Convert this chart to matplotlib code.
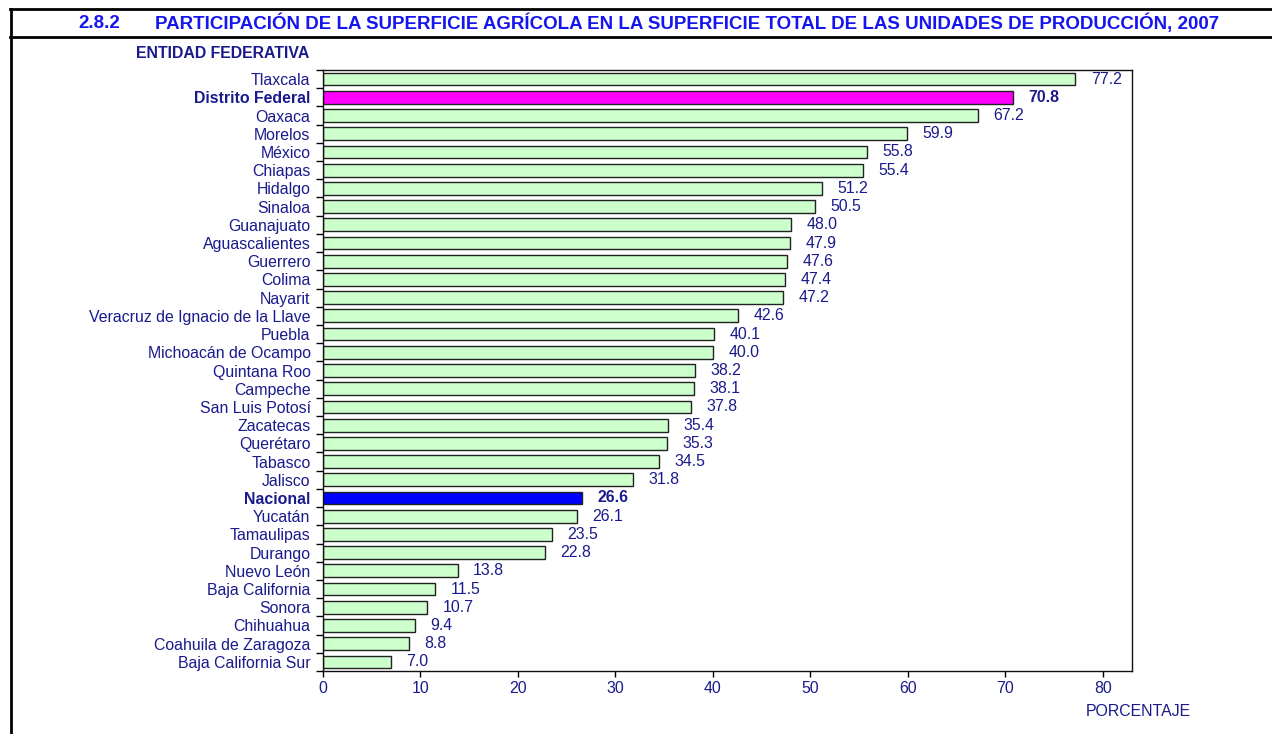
import matplotlib.pyplot as plt
import matplotlib.lines as mlines
import numpy as np

plt.rcParams['font.family'] = ['Liberation Sans', 'DejaVu Sans']

entidades = ["Tlaxcala", "Distrito Federal", "Oaxaca", "Morelos", "México", "Chiapas",
             "Hidalgo", "Sinaloa", "Guanajuato", "Aguascalientes", "Guerrero", "Colima",
             "Nayarit", "Veracruz de Ignacio de la Llave", "Puebla", "Michoacán de Ocampo",
             "Quintana Roo", "Campeche", "San Luis Potosí", "Zacatecas", "Querétaro",
             "Tabasco", "Jalisco", "Nacional", "Yucatán", "Tamaulipas", "Durango",
             "Nuevo León", "Baja California", "Sonora", "Chihuahua",
             "Coahuila de Zaragoza", "Baja California Sur"]
porcentaje = [77.2, 70.8, 67.2, 59.9, 55.8, 55.4, 51.2, 50.5, 48.0, 47.9, 47.6, 47.4,
              47.2, 42.6, 40.1, 40.0, 38.2, 38.1, 37.8, 35.4, 35.3, 34.5, 31.8, 26.6,
              26.1, 23.5, 22.8, 13.8, 11.5, 10.7, 9.4, 8.8, 7.0]
xticks = [0, 10, 20, 30, 40, 50, 60, 70, 80]

navy = '#1a1a8c'
blue_title = '#1515ee'
destacados = {"Distrito Federal": '#ff00ff', "Nacional": '#0000ff'}
fs = 11.4

fig = plt.figure(figsize=(12.72, 7.34), dpi=100)
ax = fig.add_axes([323 / 1272, 1 - 671 / 734, (1132 - 323) / 1272, (671 - 70) / 734])

n = len(entidades)
y = np.arange(n)
colores = [destacados.get(e, '#ccffcc') for e in entidades]
ax.barh(y, porcentaje, height=0.7, color=colores, edgecolor='#222222', linewidth=1)

for i, (e, v) in enumerate(zip(entidades, porcentaje)):
    bold = e in destacados
    ax.annotate(f"{v:.1f}", (v, i), xytext=(11, 0), textcoords='offset points',
                ha='left', va='center', fontsize=fs, color=navy,
                fontweight='bold' if bold else 'normal')

ax.set_ylim(n - 0.5, -0.5)
ax.set_xlim(0, 83)
ax.set_yticks(y)
ax.set_yticklabels(entidades)
for lbl, e in zip(ax.get_yticklabels(), entidades):
    lbl.set_color(navy)
    if e in destacados:
        lbl.set_fontweight('bold')
ax.tick_params(axis='y', which='major', length=0, pad=9, labelsize=fs)
ax.set_yticks(np.arange(-0.5, n, 1), minor=True)
ax.tick_params(axis='y', which='minor', length=5, width=1, direction='out')
ax.set_xticks(xticks)
ax.tick_params(axis='x', length=4, width=1, direction='out', labelsize=fs,
               labelcolor=navy, pad=3)
for s in ax.spines.values():
    s.set_linewidth(1)
    s.set_color('#111111')

fig.text(136 / 1272, 1 - 53 / 734, "ENTIDAD FEDERATIVA", fontsize=fs, fontweight='bold',
         color=navy, ha='left', va='center')
fig.text(1138 / 1272, 1 - 711 / 734, "PORCENTAJE", fontsize=fs, color=navy,
         ha='center', va='center')

fig.text(78 / 1272, 1 - 23 / 734, "2.8.2", fontsize=13.5, fontweight='bold',
         color=blue_title, ha='left', va='center')
fig.text(155 / 1272, 1 - 23 / 734,
         "PARTICIPACIÓN DE LA SUPERFICIE AGRÍCOLA EN LA SUPERFICIE TOTAL DE LAS UNIDADES DE PRODUCCIÓN, 2007",
         fontsize=13.5, fontweight='bold', color=blue_title, ha='left', va='center')

# marco del cuadro
for yy in (9, 37):
    fig.add_artist(mlines.Line2D([10 / 1272, 1], [1 - yy / 734] * 2, color='black', linewidth=2))
fig.add_artist(mlines.Line2D([11 / 1272] * 2, [1 - 9 / 734, 0], color='black', linewidth=2))

fig.savefig('out.png', dpi=100)
